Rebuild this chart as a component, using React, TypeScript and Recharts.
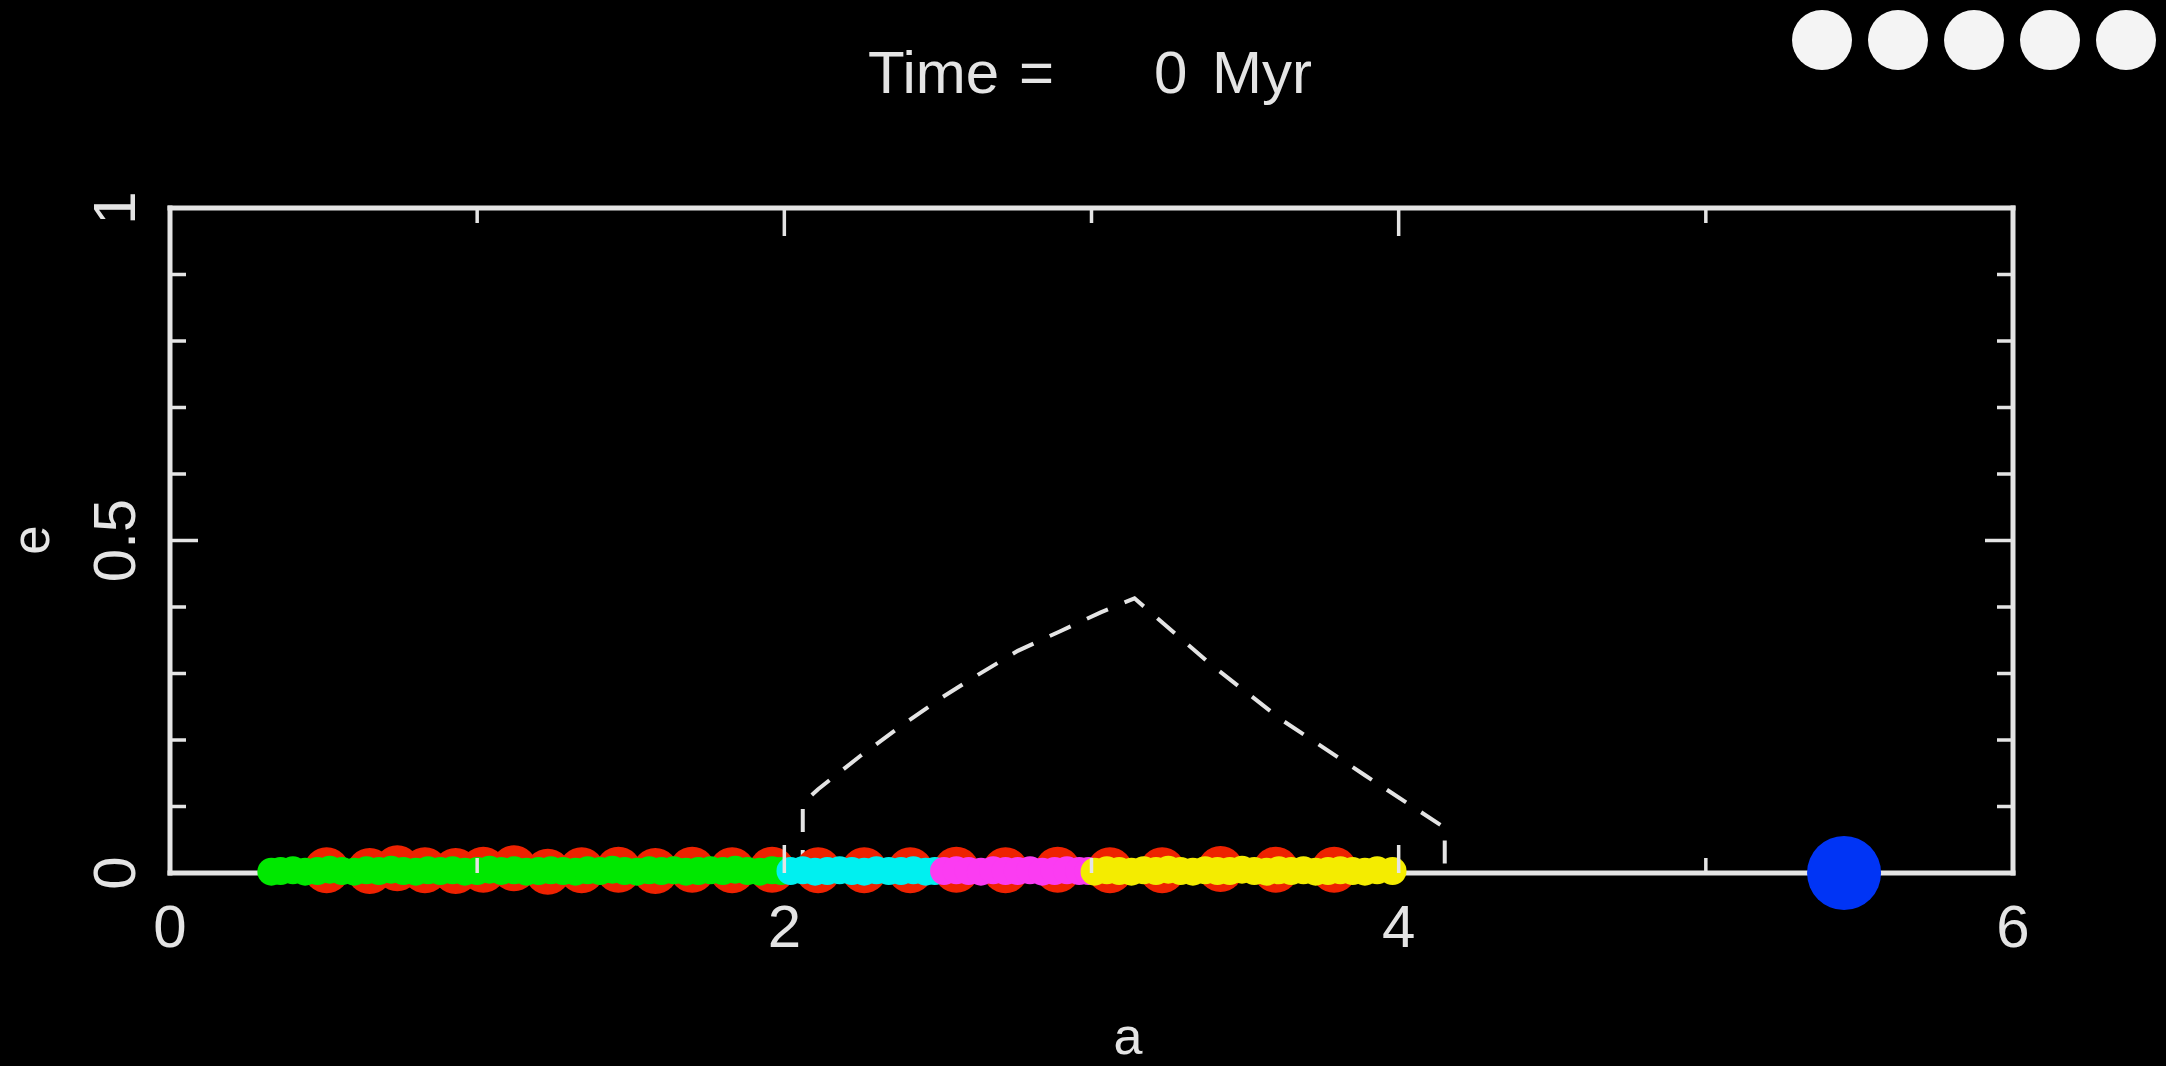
import { ScatterChart, Scatter, XAxis, YAxis } from "recharts";

// axis ticks (semi-major axis a in AU, eccentricity e)
const A_TICKS = [0, 1, 2, 3, 4, 5, 6];
const A_LABELS = [0, 2, 4, 6];
const E_TICKS = [0, 0.1, 0.2, 0.3, 0.4, 0.5, 0.6, 0.7, 0.8, 0.9, 1];
const E_LABELS = [0, 0.5, 1];

const TIME_MYR = 0;

// embryos (big red bodies)
const embryos = [
  { a: 0.51, e: 0.004 }, { a: 0.65, e: 0.003 }, { a: 0.74, e: 0.007 }, { a: 0.83, e: 0.004 },
  { a: 0.93, e: 0.003 }, { a: 1.02, e: 0.005 }, { a: 1.12, e: 0.007 }, { a: 1.23, e: 0.002 },
  { a: 1.34, e: 0.004 }, { a: 1.46, e: 0.005 }, { a: 1.58, e: 0.003 }, { a: 1.70, e: 0.005 },
  { a: 1.83, e: 0.004 }, { a: 1.96, e: 0.005 }, { a: 2.11, e: 0.004 }, { a: 2.26, e: 0.004 },
  { a: 2.41, e: 0.004 }, { a: 2.56, e: 0.005 }, { a: 2.72, e: 0.004 }, { a: 2.89, e: 0.005 },
  { a: 3.06, e: 0.004 }, { a: 3.23, e: 0.004 }, { a: 3.42, e: 0.006 }, { a: 3.60, e: 0.005 },
  { a: 3.79, e: 0.005 },
];

// planetesimals, coloured by starting zone
const zoneInner = [
  { a: 0.33, e: 0.002 }, { a: 0.36, e: 0.003 }, { a: 0.40, e: 0.004 }, { a: 0.44, e: 0.002 },
  { a: 0.48, e: 0.003 }, { a: 0.52, e: 0.005 }, { a: 0.56, e: 0.003 }, { a: 0.60, e: 0.002 },
  { a: 0.64, e: 0.004 }, { a: 0.68, e: 0.003 }, { a: 0.72, e: 0.005 }, { a: 0.76, e: 0.003 },
  { a: 0.80, e: 0.002 }, { a: 0.84, e: 0.004 }, { a: 0.88, e: 0.003 }, { a: 0.92, e: 0.004 },
  { a: 0.96, e: 0.002 }, { a: 1.00, e: 0.003 }, { a: 1.04, e: 0.005 }, { a: 1.08, e: 0.003 },
  { a: 1.12, e: 0.004 }, { a: 1.16, e: 0.002 }, { a: 1.20, e: 0.003 }, { a: 1.24, e: 0.004 },
  { a: 1.28, e: 0.003 }, { a: 1.32, e: 0.002 }, { a: 1.36, e: 0.004 }, { a: 1.40, e: 0.003 },
  { a: 1.44, e: 0.005 }, { a: 1.48, e: 0.003 }, { a: 1.52, e: 0.002 }, { a: 1.56, e: 0.004 },
  { a: 1.60, e: 0.003 }, { a: 1.64, e: 0.004 }, { a: 1.68, e: 0.002 }, { a: 1.72, e: 0.003 },
  { a: 1.76, e: 0.004 }, { a: 1.80, e: 0.003 }, { a: 1.84, e: 0.005 }, { a: 1.88, e: 0.003 },
  { a: 1.92, e: 0.002 }, { a: 1.96, e: 0.004 }, { a: 1.99, e: 0.003 },
];

const zoneTwo = [
  { a: 2.02, e: 0.003 }, { a: 2.06, e: 0.004 }, { a: 2.10, e: 0.002 }, { a: 2.14, e: 0.003 },
  { a: 2.18, e: 0.004 }, { a: 2.22, e: 0.003 }, { a: 2.26, e: 0.002 }, { a: 2.30, e: 0.004 },
  { a: 2.34, e: 0.003 }, { a: 2.38, e: 0.003 }, { a: 2.42, e: 0.004 }, { a: 2.46, e: 0.002 },
  { a: 2.49, e: 0.003 },
];

const zoneThree = [
  { a: 2.52, e: 0.003 }, { a: 2.56, e: 0.004 }, { a: 2.60, e: 0.003 }, { a: 2.64, e: 0.002 },
  { a: 2.68, e: 0.004 }, { a: 2.72, e: 0.003 }, { a: 2.76, e: 0.003 }, { a: 2.80, e: 0.004 },
  { a: 2.84, e: 0.002 }, { a: 2.88, e: 0.003 }, { a: 2.92, e: 0.004 }, { a: 2.96, e: 0.003 },
  { a: 2.99, e: 0.003 },
];

const zoneOuter = [
  { a: 3.01, e: 0.002 }, { a: 3.05, e: 0.004 }, { a: 3.09, e: 0.003 }, { a: 3.13, e: 0.002 },
  { a: 3.17, e: 0.004 }, { a: 3.21, e: 0.003 }, { a: 3.25, e: 0.005 }, { a: 3.29, e: 0.003 },
  { a: 3.33, e: 0.002 }, { a: 3.37, e: 0.004 }, { a: 3.41, e: 0.003 }, { a: 3.45, e: 0.003 },
  { a: 3.49, e: 0.005 }, { a: 3.53, e: 0.003 }, { a: 3.57, e: 0.002 }, { a: 3.61, e: 0.004 },
  { a: 3.65, e: 0.003 }, { a: 3.69, e: 0.004 }, { a: 3.73, e: 0.002 }, { a: 3.77, e: 0.003 },
  { a: 3.81, e: 0.004 }, { a: 3.85, e: 0.003 }, { a: 3.89, e: 0.002 }, { a: 3.93, e: 0.004 },
  { a: 3.98, e: 0.003 },
];

const jupiter = [{ a: 5.45, e: 0 }];

// dashed boundary curve
const boundary = [
  { a: 2.06, e: 0 }, { a: 2.06, e: 0.105 }, { a: 2.11, e: 0.126 }, { a: 2.25, e: 0.177 },
  { a: 2.38, e: 0.221 }, { a: 2.51, e: 0.263 }, { a: 2.63, e: 0.298 }, { a: 2.76, e: 0.334 },
  { a: 2.90, e: 0.364 }, { a: 3.03, e: 0.392 }, { a: 3.14, e: 0.413 }, { a: 3.39, e: 0.313 },
  { a: 3.62, e: 0.230 }, { a: 3.89, e: 0.147 }, { a: 4.15, e: 0.068 }, { a: 4.15, e: 0 },
];

const AXIS = "#e4e4e4";
const FONT = '"Liberation Sans", Arial, sans-serif';
const W = 2166;
const H = 1066;
const AX = 40; // size reserved for each axis

const dot = (r: number, fill: string) => (props: any) =>
  <circle cx={props.cx} cy={props.cy} r={r} fill={fill} />;

const isMajor = (list: number[], v: number) => list.some((m) => Math.abs(m - v) < 1e-9);

const BottomTick = ({ x, y, payload }: any) => {
  const major = isMajor(A_LABELS, payload.value);
  return (
    <g>
      <line x1={x} x2={x} y1={y} y2={y - (major ? 28 : 15)} stroke={AXIS} strokeWidth={3.5} />
      {major && (
        <text x={x} y={y + 74} textAnchor="middle" fill={AXIS} fontSize={60} fontFamily={FONT}>
          {payload.value}
        </text>
      )}
    </g>
  );
};

const TopTick = ({ x, y, payload }: any) => {
  const major = isMajor(A_LABELS, payload.value);
  return <line x1={x} x2={x} y1={y} y2={y + (major ? 28 : 15)} stroke={AXIS} strokeWidth={3.5} />;
};

const LeftTick = ({ x, y, payload }: any) => {
  const major = isMajor(E_LABELS, payload.value);
  const lx = x - 35;
  return (
    <g>
      <line x1={x} x2={x + (major ? 28 : 16)} y1={y} y2={y} stroke={AXIS} strokeWidth={3.5} />
      {major && (
        <text
          x={lx}
          y={y}
          transform={`rotate(-90 ${lx} ${y})`}
          textAnchor="middle"
          fill={AXIS}
          fontSize={60}
          fontFamily={FONT}
        >
          {payload.value}
        </text>
      )}
    </g>
  );
};

const RightTick = ({ x, y, payload }: any) => {
  const major = isMajor(E_LABELS, payload.value);
  return <line x1={x} x2={x - (major ? 28 : 16)} y1={y} y2={y} stroke={AXIS} strokeWidth={3.5} />;
};

const axisLine = { stroke: AXIS, strokeWidth: 5, strokeLinecap: "square" as const };

export default function App() {
  return (
    <div style={{ position: "fixed", left: 0, top: 0, width: W, height: H, background: "#000", overflow: "hidden" }}>
      <ScatterChart
        width={W}
        height={H}
        margin={{ top: 208 - AX, right: 153 - AX, bottom: 193 - AX, left: 170 - AX }}
      >
        <XAxis
          dataKey="a"
          type="number"
          domain={[0, 6]}
          ticks={A_TICKS}
          interval={0}
          height={AX}
          tickSize={0}
          tickMargin={0}
          tickLine={false}
          axisLine={axisLine}
          tick={(p: any) => <BottomTick {...p} />}
        />
        <XAxis
          xAxisId="top"
          orientation="top"
          dataKey="a"
          type="number"
          domain={[0, 6]}
          ticks={A_TICKS}
          interval={0}
          height={AX}
          tickSize={0}
          tickMargin={0}
          tickLine={false}
          axisLine={axisLine}
          tick={(p: any) => <TopTick {...p} />}
        />
        <YAxis
          dataKey="e"
          type="number"
          domain={[0, 1]}
          ticks={E_TICKS}
          interval={0}
          width={AX}
          tickSize={0}
          tickMargin={0}
          tickLine={false}
          axisLine={axisLine}
          tick={(p: any) => <LeftTick {...p} />}
        />
        <YAxis
          yAxisId="right"
          orientation="right"
          dataKey="e"
          type="number"
          domain={[0, 1]}
          ticks={E_TICKS}
          interval={0}
          width={AX}
          tickSize={0}
          tickMargin={0}
          tickLine={false}
          axisLine={axisLine}
          tick={(p: any) => <RightTick {...p} />}
        />

        {/* boundary uses the mirrored top/right axes (same domains) */}
        <Scatter
          data={boundary}
          xAxisId="top"
          yAxisId="right"
          fill="none"
          line={{ stroke: AXIS, strokeWidth: 4, strokeDasharray: "23 18", fill: "none" }}
          shape={() => <g />}
          isAnimationActive={false}
          zIndex={900}
        />
        <Scatter data={embryos} fill="#ee2200" shape={dot(23, "#ee2200")} isAnimationActive={false} zIndex={1000} />
        <Scatter data={zoneInner} fill="#00e800" shape={dot(14, "#00e800")} isAnimationActive={false} zIndex={1001} />
        <Scatter data={zoneTwo} fill="#00f0f0" shape={dot(14, "#00f0f0")} isAnimationActive={false} zIndex={1002} />
        <Scatter data={zoneThree} fill="#fb3cf2" shape={dot(14, "#fb3cf2")} isAnimationActive={false} zIndex={1003} />
        <Scatter data={zoneOuter} fill="#f4ec00" shape={dot(14, "#f4ec00")} isAnimationActive={false} zIndex={1004} />
        <Scatter data={jupiter} fill="#0034f5" shape={dot(37, "#0034f5")} isAnimationActive={false} zIndex={1005} />
      </ScatterChart>

      <svg width={W} height={H} style={{ position: "absolute", left: 0, top: 0, pointerEvents: "none" }}>
        <g fill={AXIS} fontFamily={FONT}>
          <text y={93} fontSize={60}>
            <tspan x={868}>Time</tspan>
            <tspan x={1019}>=</tspan>
            <tspan x={1154}>{TIME_MYR}</tspan>
            <tspan x={1212}>Myr</tspan>
          </text>
          <text x={1128} y={1054} fontSize={52} textAnchor="middle">a</text>
          <text x={49} y={540} fontSize={53} textAnchor="middle" transform="rotate(-90 49 540)">e</text>
        </g>
      </svg>

      <div style={{ position: "absolute", left: 1792, top: 10, display: "flex", gap: 16 }}>
        {[0, 1, 2, 3, 4].map((i) => (
          <div key={i} style={{ width: 60, height: 60, borderRadius: "50%", background: "#f4f4f4" }} />
        ))}
      </div>
    </div>
  );
}
